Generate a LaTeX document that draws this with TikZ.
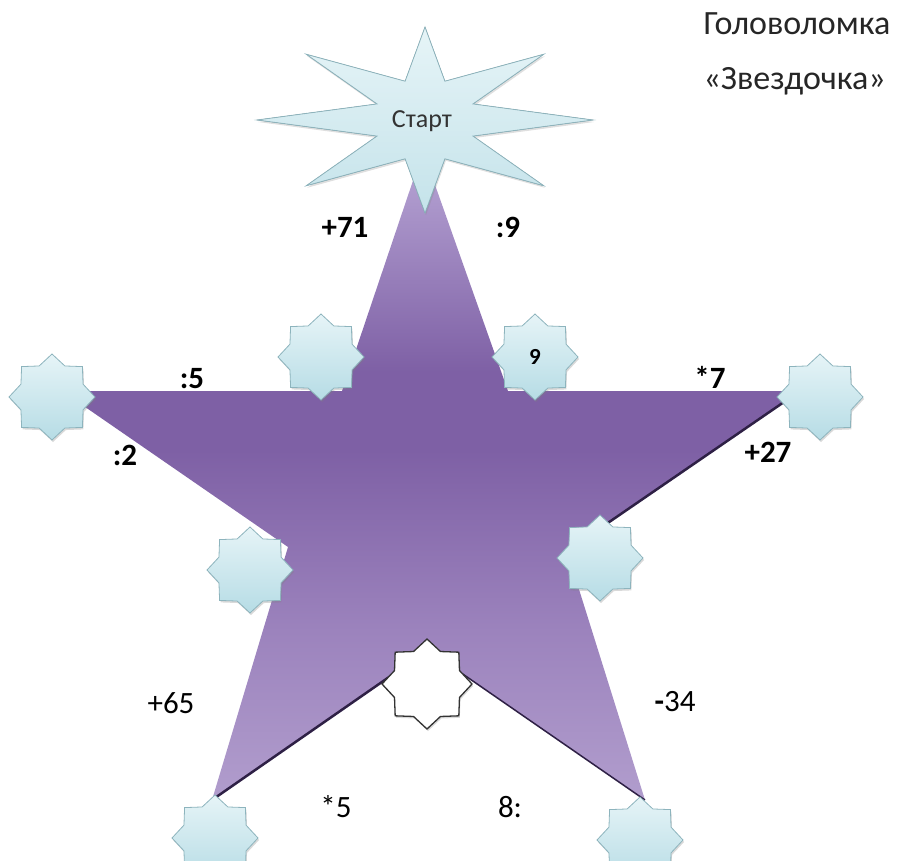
\documentclass[tikz,border=0pt]{standalone}
\usepackage{fontspec}
\setmainfont{Carlito}
\usepackage{tikz}
\usetikzlibrary{shapes.geometric,shadows}
\definecolor{ptop}{HTML}{B9A7D6}
\definecolor{pmid}{HTML}{7E60A5}
\definecolor{plow}{HTML}{9C83BD}
\definecolor{pbot}{HTML}{B19DCD}
\definecolor{pedge}{HTML}{2E2045}
\definecolor{icehi}{HTML}{E6F4F7}
\definecolor{icelo}{HTML}{B6DCE5}
\definecolor{iceedge}{HTML}{8DB4BD}
\pgfdeclareverticalshading{starshade}{100bp}{color(0bp)=(pbot); color(25bp)=(pbot);
  color(38bp)=(plow); color(52bp)=(pmid); color(58bp)=(pmid); color(75bp)=(ptop); color(100bp)=(ptop)}

\begin{document}
\begin{tikzpicture}[x=1pt,y=-1pt,
  starbase/.style={star,star points=8,star point ratio=1.28,minimum size=86pt,inner sep=0pt,
                   drop shadow={opacity=0.3,shadow xshift=1pt,shadow yshift=-2pt}},
  snow/.style={starbase,draw=iceedge,line width=0.8pt,top color=icehi,bottom color=icelo},
  blank/.style={starbase,draw=black!80,line width=1.3pt,fill=white,minimum size=90pt},
  op/.style={font=\fontsize{31}{36}\selectfont\bfseries,inner sep=1pt},
  opl/.style={font=\fontsize{31}{36}\selectfont,inner sep=1pt}]
\useasboundingbox (0,0) rectangle (897,861);

% big purple star
\coordinate (apex)  at (423,151);
\coordinate (innTR) at (508,391);
\coordinate (tipR)  at (800,391);
\coordinate (innR)  at (567,551);
\coordinate (tipBR) at (645,800);
\coordinate (innB)  at (428,650);
\coordinate (tipBL) at (212,800);
\coordinate (innL)  at (288,547);
\coordinate (tipL)  at (62,391);
\coordinate (innTL) at (342,391);
\shade[shading=starshade] (apex) -- (innTR) -- (tipR) -- (innR) -- (tipBR) -- (innB)
      -- (tipBL) -- (innL) -- (tipL) -- (innTL) -- cycle;
\draw[pedge,line width=2.5pt] (tipR) -- (innR);
\draw[pedge,line width=2.5pt] (tipBL) -- (innB);
\draw[pedge,line width=1.5pt] (innB) -- (tipBR);

% start star
\filldraw[draw=iceedge,line width=0.8pt,top color=icehi,bottom color=icelo!80,
          drop shadow={opacity=0.25,shadow xshift=1pt,shadow yshift=-2pt}]
  (593,120) \foreach \i [evaluate=\i as \rx using {isodd(\i)?52:168},
                         evaluate=\i as \ry using {isodd(\i)?42:93}] in {1,...,15}
  { -- ({425+\rx*cos(22.5*\i)},{120-\ry*sin(22.5*\i)}) } -- cycle;
\node (start) [font=\fontsize{26}{30}\selectfont,text=black!80] at (422,121) {Старт};

% small stars
\node (sL)  [snow] at (52,397) {};
\node (sTL) [snow] at (321,357) {};
\node (sTR) [snow,font=\fontsize{23}{26}\selectfont\bfseries] at (535,357) {9};
\node (sR)  [snow] at (820,397) {};
\node (sML) [snow] at (250,570) {};
\node (sMR) [snow] at (600,558) {};
\node (sBL) [snow] at (215,838) {};
\node (sBR) [snow] at (640,840) {};
\node (sB)  [blank] at (427,684) {};

% operations
\node (o71) [op] at (345,227) {+71};
\node (o9)  [op] at (508,227) {:9};
\node (o5)  [op] at (192,379) {:5};
\node (o7)  [op] at (710,377) {*7};
\node (o2)  [op] at (125,455) {:2};
\node (o27) [op] at (768,452) {+27};
\node (o65) [opl] at (171,703) {+65};
\node (o34) [opl] at (675,702) {{\bfseries -}34};
\node (om5) [opl] at (336,807) {*5};
\node (o8)  [opl] at (510,807) {8:};

% title
\node (t1) [anchor=base west,font=\fontsize{34}{40}\selectfont,text=black!85] at (700,35) {Головоломка};
\node (t2) [anchor=base west,font=\fontsize{34}{40}\selectfont,text=black!85] at (700,90) {«Звездочка»};
\end{tikzpicture}
\end{document}
